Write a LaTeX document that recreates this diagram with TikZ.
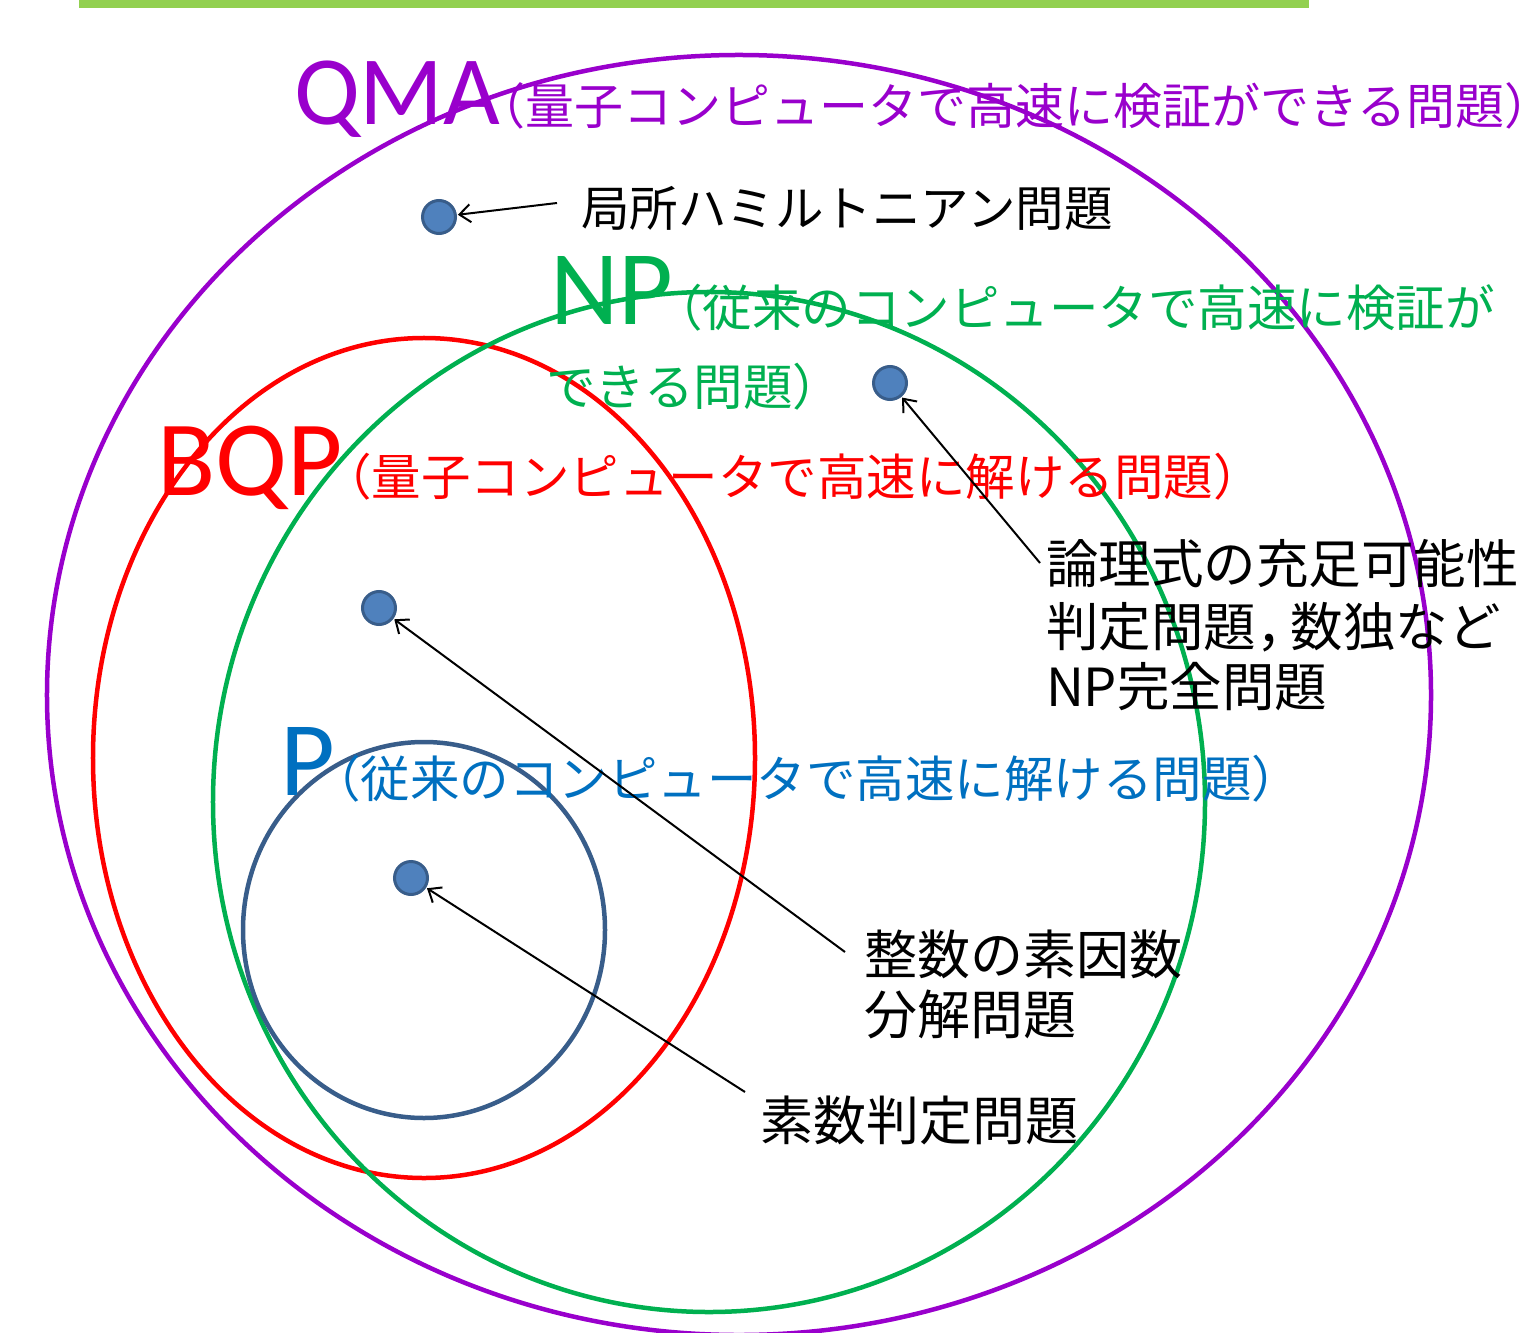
\documentclass[tikz,border=0pt]{standalone}
\usepackage{fontspec}
\setmainfont{Carlito}
\newfontfamily\cjk{Noto Sans CJK JP}
\usetikzlibrary{arrows.meta}
\definecolor{qmac}{HTML}{9900CC}
\definecolor{npc}{HTML}{00B050}
\definecolor{bqpc}{HTML}{FF0000}
\definecolor{ptext}{HTML}{0070C0}
\definecolor{pcirc}{HTML}{385D8A}
\definecolor{dotfill}{HTML}{4F81BD}
\definecolor{barc}{HTML}{92D050}
\newcommand{\bigfont}[1]{\fontsize{#1bp}{#1bp}\selectfont}
\tikzset{
  lab/.style={inner sep=0pt, outer sep=0pt, anchor=base west},
  cjklab/.style={lab, font=\cjk},
  set/.style={line width=4.5bp},
  probdot/.style={circle, draw=pcirc, fill=dotfill, line width=3bp, minimum size=33bp, inner sep=0pt},
  pointer/.style={draw=black, line width=2bp, -{Straight Barb[length=11bp, width=18bp, line width=2bp]}, shorten >=1bp},
}
\begin{document}
\begin{tikzpicture}[x=1bp, y=-1bp]
\path[use as bounding box] (0,0) rectangle (1527,1333);
\clip (0,0) rectangle (1527,1333);
% top bar
\fill[barc] (79,0) rectangle (1309,8);
% sets
\draw[set, qmac] (739,695) ellipse [x radius=692bp, y radius=640bp];
\draw[set, bqpc] (424,758) ellipse [x radius=331bp, y radius=420bp];
\draw[set, npc] (709,802) ellipse [x radius=496bp, y radius=510bp];
\draw[set, pcirc] (424,930) ellipse [x radius=181bp, y radius=188bp];
% titles
\node[lab, text=qmac] (qmat) at (294,125) {\bigfont{98}QMA};
\node[cjklab, text=qmac] (qmad) at (476,125) {\bigfont{49}（量子コンピュータで高速に検証ができる問題）};
\node[lab, text=npc] (npt) at (550,325) {\bigfont{106}NP};
\node[cjklab, text=npc] (npd1) at (653,327) {\bigfont{49.5}（従来のコンピュータで高速に検証が};
\node[cjklab, text=npc] (npd2) at (546,405) {\bigfont{49.5}できる問題）};
\node[lab, text=bqpc] (bqpt) at (157,495) {\bigfont{107}BQP};
\node[cjklab, text=bqpc] (bqpd) at (322,495) {\bigfont{49.5}（量子コンピュータで高速に解ける問題）};
\node[lab, text=ptext] (pt) at (280,795) {\bigfont{106}P};
\node[cjklab, text=ptext] (pd) at (311,797) {\bigfont{49.5}（従来のコンピュータで高速に解ける問題）};
% problems
\node[probdot] (lh) at (439,217) {};
\node[probdot] (sat) at (890,383) {};
\node[probdot] (fact) at (379,608) {};
\node[probdot] (prime) at (411,878) {};
% labels
\node[cjklab] (lhl) at (581,227) {\bigfont{48.5}局所ハミルトニアン問題};
\node[cjklab] (satl1) at (1046,583) {\bigfont{52.5}論理式の充足可能性};
\node[cjklab] (satl2) at (1046,646) {\bigfont{52.5}判定問題，\kern-18bp 数独など};
\node[cjklab] (satl3) at (1046,706) {\bigfont{52.5}NP完全問題};
\node[cjklab] (factl1) at (864,974) {\bigfont{53}整数の素因数};
\node[cjklab] (factl2) at (864,1034) {\bigfont{53}分解問題};
\node[cjklab] (priml) at (760,1140) {\bigfont{53}素数判定問題};
% connector start points
\coordinate (lhs) at (557,203);
\coordinate (sats) at (1040,563);
\coordinate (facts) at (845,952);
\coordinate (prims) at (745,1092);
\draw[pointer] (lhs) -- (lh);
\draw[pointer] (sats) -- (sat);
\draw[pointer] (facts) -- (fact);
\draw[pointer] (prims) -- (prime);
\end{tikzpicture}
\end{document}
